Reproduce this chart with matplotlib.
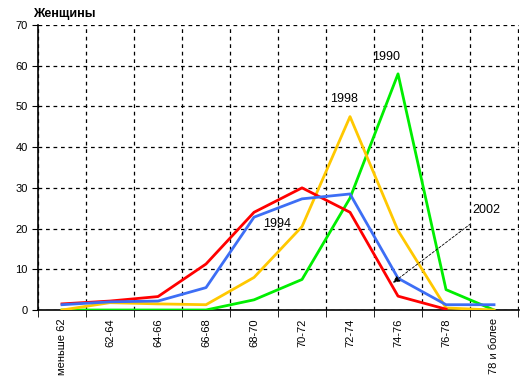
import matplotlib
matplotlib.use("Agg")
import matplotlib.pyplot as plt
import numpy as np

plt.rcParams['font.family'] = ['Liberation Sans', 'DejaVu Sans']

# age groups
ages = ["меньше 62", "62-64", "64-66", "66-68", "68-70",
        "70-72", "72-74", "74-76", "76-78", "78 и более"]
# share of women, %
y1990 = [0, 0, 0, 0, 2.5, 7.5, 27.5, 58, 5, 0]
y1994 = [1.5, 2.2, 3.3, 11.3, 24, 30, 24, 3.4, 0.2, np.nan]
y1998 = [0, 1.8, 1.5, 1.3, 8, 20.5, 47.5, 19.5, 0.5, 0]
y2002 = [1.3, 2, 2.2, 5.5, 22.8, 27.3, 28.5, 7.8, 1.3, 1.3]

x = np.arange(len(ages))

fig = plt.figure(figsize=(5.21, 3.90), dpi=100)
ax = fig.add_axes([38/521, 1-310/390, 481/521, 285/390])

ax.plot(x, y1990, color='#00ee00', lw=2, zorder=3)
ax.plot(x, y1998, color='#ffc800', lw=2, zorder=3)
ax.plot(x, y1994, color='#ff0000', lw=2, zorder=4)
ax.plot(x, y2002, color='#3d6ef5', lw=2, zorder=5)

ax.set_xlim(-0.5, 9.52)
ax.set_ylim(0, 70)
ax.set_yticks(np.arange(0, 71, 10))
ax.set_xticks(x)
ax.set_xticklabels(ages, rotation=90, fontsize=8)
ax.set_xticks(np.arange(-0.5, 9.6, 1), minor=True)
ax.tick_params(axis='x', which='major', length=0, pad=6)
ax.tick_params(axis='x', which='minor', length=5, direction='out')
ax.tick_params(axis='y', length=4, labelsize=8)

ax.grid(True, axis='y', which='major', color='black', ls=(0, (3, 3)), lw=0.9)
ax.grid(True, axis='x', which='minor', color='black', ls=(0, (3, 3)), lw=0.9)
ax.grid(False, axis='x', which='major')
for s in ['top', 'right']:
    ax.spines[s].set_visible(False)
ax.spines['left'].set_linewidth(1.2)
ax.spines['bottom'].set_linewidth(1.2)

ax.text(5.58, 51.2, "1998", fontsize=9)
ax.text(6.46, 61.4, "1990", fontsize=9)
ax.text(4.19, 20.3, "1994", fontsize=9)
ax.text(8.54, 23.8, "2002", fontsize=9)
ax.annotate("", xy=(6.85, 6.3), xytext=(8.56, 21.6),
            arrowprops=dict(arrowstyle='-|>', color='black', lw=0.6,
                            ls=(0, (3, 2)), mutation_scale=10), zorder=6)

fig.text(33/521, 1-14/390, "Женщины", fontsize=9, fontweight='bold', va='center')

fig.savefig("out.png", dpi=100)
